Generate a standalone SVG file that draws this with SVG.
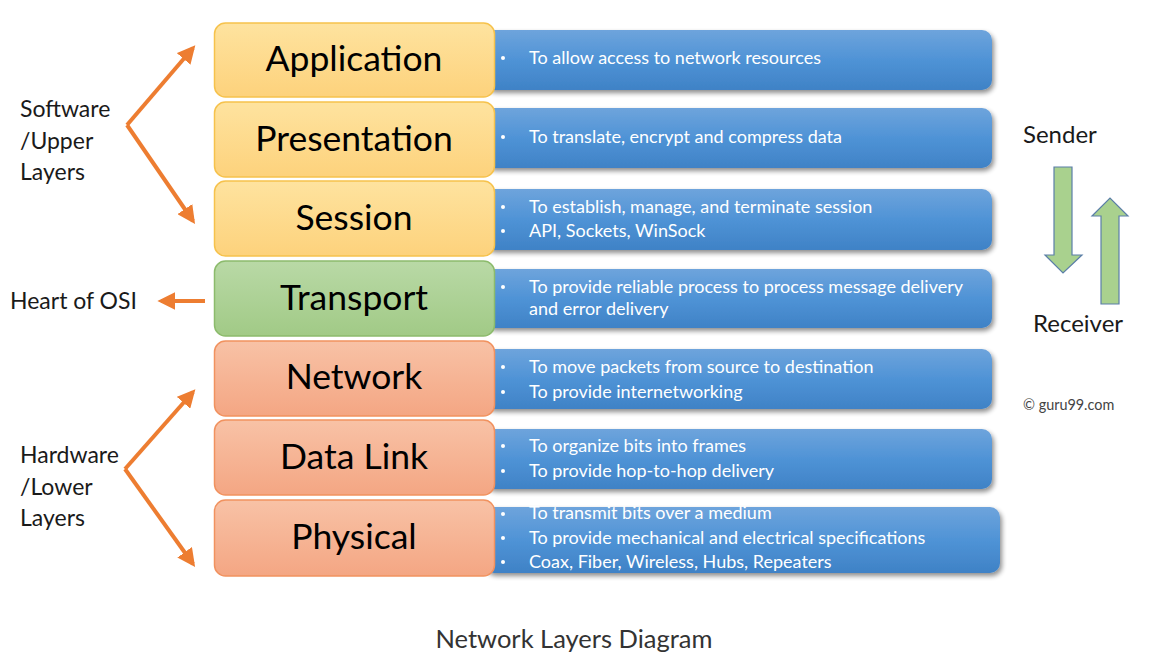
<svg xmlns="http://www.w3.org/2000/svg" width="1157" height="661" viewBox="0 0 1157 661">
<defs>
<linearGradient id="gY" x1="0" y1="0" x2="0" y2="1"><stop offset="0" stop-color="#fee39f"/><stop offset="1" stop-color="#fdd27c"/></linearGradient>
<linearGradient id="gG" x1="0" y1="0" x2="0" y2="1"><stop offset="0" stop-color="#b9d9a6"/><stop offset="1" stop-color="#a1ca86"/></linearGradient>
<linearGradient id="gO" x1="0" y1="0" x2="0" y2="1"><stop offset="0" stop-color="#f8c2a6"/><stop offset="1" stop-color="#f4a683"/></linearGradient>
<linearGradient id="gB" x1="0" y1="0" x2="0" y2="1"><stop offset="0" stop-color="#6ea4dc"/><stop offset="0.5" stop-color="#4f93d6"/><stop offset="1" stop-color="#3f82c6"/></linearGradient>
<filter id="sh" x="-5%" y="-20%" width="115%" height="160%"><feGaussianBlur in="SourceAlpha" stdDeviation="2.5"/><feOffset dx="2" dy="3"/><feComponentTransfer><feFuncA type="linear" slope="0.45"/></feComponentTransfer><feMerge><feMergeNode/><feMergeNode in="SourceGraphic"/></feMerge></filter>
<marker id="ah" viewBox="0 0 10 10" refX="8" refY="5" markerWidth="4.5" markerHeight="4.5" orient="auto-start-reverse" markerUnits="strokeWidth"><path d="M0,0 L10,5 L0,10 z" fill="#ed7d31"/></marker>
</defs>
<style>
.lay{font-family:Lato,"Liberation Sans",sans-serif;font-size:35.5px;fill:#000;text-anchor:middle}
.desc{font-family:Lato,"Liberation Sans",sans-serif;font-size:18px;fill:#fff}
.side{font-family:Lato,"Liberation Sans",sans-serif;font-size:23px;fill:#1a1a1a}
.blue{fill:url(#gB);filter:url(#sh)}
.y{fill:url(#gY);stroke:#f6c24c;stroke-width:1.5}
.g{fill:url(#gG);stroke:#8cbb6c;stroke-width:1.5}
.o{fill:url(#gO);stroke:#f1925f;stroke-width:1.5}
.con{stroke:#ed7d31;stroke-width:4;fill:none;marker-end:url(#ah)}
.big{fill:#a9d18e;stroke:#5b7ea8;stroke-width:1.2}
</style>
<rect width="1157" height="661" fill="#ffffff"/>

<g id="application">
<rect class="blue" x="484" y="30" width="508" height="60" rx="10"/>
<rect class="y" x="214.5" y="23" width="280" height="74" rx="11"/>
<text class="lay" x="354" y="71">Application</text>
<circle cx="503" cy="58" r="2" fill="#fff"/>
<text class="desc" x="529" y="64">To allow access to network resources</text>
</g>
<g id="presentation">
<rect class="blue" x="484" y="108" width="508" height="60" rx="10"/>
<rect class="y" x="214.5" y="102" width="280" height="75" rx="11"/>
<text class="lay" x="354" y="151">Presentation</text>
<circle cx="503" cy="137" r="2" fill="#fff"/>
<text class="desc" x="529" y="143">To translate, encrypt and compress data</text>
</g>
<g id="session">
<rect class="blue" x="484" y="189" width="508" height="61" rx="10"/>
<rect class="y" x="214.5" y="181" width="280" height="75" rx="11"/>
<text class="lay" x="354" y="230">Session</text>
<circle cx="503" cy="207" r="2" fill="#fff"/>
<circle cx="503" cy="231" r="2" fill="#fff"/>
<text class="desc" x="529" y="213">To establish, manage, and terminate session</text>
<text class="desc" x="529" y="237">API, Sockets, WinSock</text>
</g>
<g id="transport">
<rect class="blue" x="484" y="269" width="508" height="59" rx="10"/>
<rect class="g" x="214.5" y="261" width="280" height="75" rx="11"/>
<text class="lay" x="354" y="310">Transport</text>
<circle cx="503" cy="287" r="2" fill="#fff"/>
<text class="desc" x="529" y="293">To provide reliable process to process message delivery</text>
<text class="desc" x="529" y="315">and error delivery</text>
</g>
<g id="network">
<rect class="blue" x="484" y="349" width="508" height="60" rx="10"/>
<rect class="o" x="214.5" y="341" width="280" height="75" rx="11"/>
<text class="lay" x="354" y="389">Network</text>
<circle cx="503" cy="367" r="2" fill="#fff"/>
<circle cx="503" cy="392" r="2" fill="#fff"/>
<text class="desc" x="529" y="373">To move packets from source to destination</text>
<text class="desc" x="529" y="398">To provide internetworking</text>
</g>
<g id="datalink">
<rect class="blue" x="484" y="429" width="508" height="60" rx="10"/>
<rect class="o" x="214.5" y="420" width="280" height="75" rx="11"/>
<text class="lay" x="354" y="469">Data Link</text>
<circle cx="503" cy="446" r="2" fill="#fff"/>
<circle cx="503" cy="471" r="2" fill="#fff"/>
<text class="desc" x="529" y="452">To organize bits into frames</text>
<text class="desc" x="529" y="477">To provide hop-to-hop delivery</text>
</g>
<g id="physical">
<rect class="blue" x="484" y="507" width="516" height="66" rx="10"/>
<rect class="o" x="214.5" y="500" width="280" height="76" rx="11"/>
<text class="lay" x="354" y="549">Physical</text>
<circle cx="503" cy="514" r="2" fill="#fff"/>
<circle cx="503" cy="538" r="2" fill="#fff"/>
<circle cx="503" cy="562" r="2" fill="#fff"/>
<text class="desc" x="529" y="519">To transmit bits over a medium</text>
<text class="desc" x="529" y="544">To provide mechanical and electrical specifications</text>
<text class="desc" x="529" y="568">Coax, Fiber, Wireless, Hubs, Repeaters</text>
</g>

<g id="upper-label">
<text class="side" x="20" y="117">Software</text>
<text class="side" x="20" y="149">/Upper</text>
<text class="side" x="20" y="180">Layers</text>
</g>
<g id="heart-label">
<text class="side" x="10" y="309">Heart of OSI</text>
</g>
<g id="lower-label">
<text class="side" x="20" y="463">Hardware</text>
<text class="side" x="20" y="495">/Lower</text>
<text class="side" x="20" y="526">Layers</text>
</g>

<g id="connectors">
<path class="con" d="M127,125 L193,48"/>
<path class="con" d="M127,125 L193,221"/>
<path class="con" d="M205,301 L161,301"/>
<path class="con" d="M125,469 L193,392"/>
<path class="con" d="M125,469 L193,564"/>
</g>

<g id="sender-receiver">
<text class="side" x="1023" y="143" style="font-size:24px">Sender</text>
<path class="big" d="M1054,167 L1072,167 L1072,255 L1082,255 L1063,273 L1045,255 L1054,255 Z"/>
<path class="big" d="M1101,304 L1119,304 L1119,216 L1128,216 L1110,198 L1092,216 L1101,216 Z"/>
<text class="side" x="1033" y="332" style="font-size:24px">Receiver</text>
<text x="1023" y="410" style="font-family:Lato,'Liberation Sans',sans-serif;font-size:14.4px;fill:#444">© guru99.com</text>
</g>

<g id="caption">
<text x="574" y="648" text-anchor="middle" style="font-family:Lato,'Liberation Sans',sans-serif;font-size:25.5px;fill:#333">Network Layers Diagram</text>
</g>
</svg>
